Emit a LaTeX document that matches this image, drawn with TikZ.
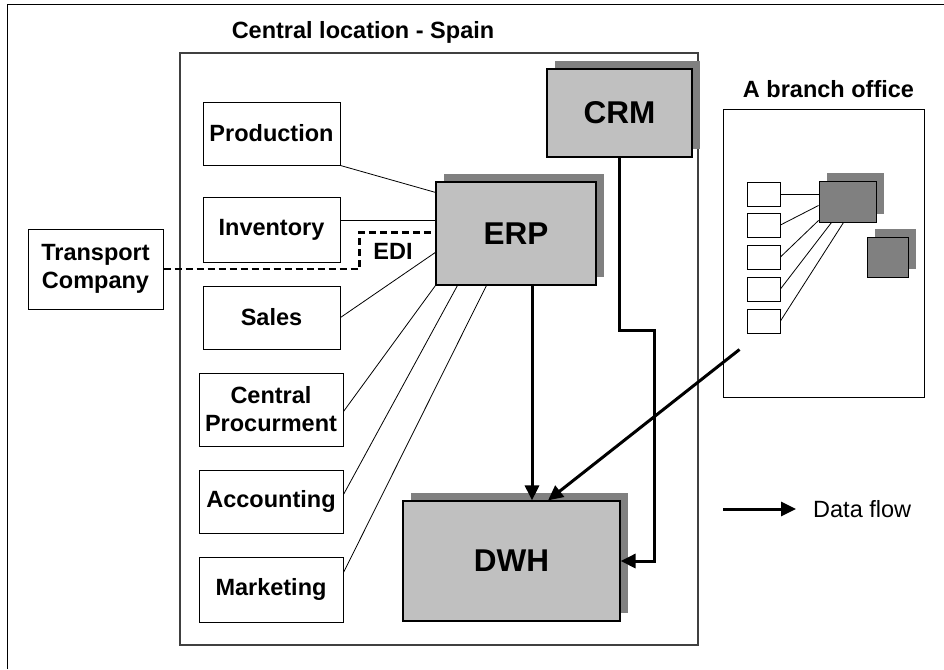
\documentclass[tikz,border=0pt]{standalone}
\usepackage{fontspec}
\setmainfont{Liberation Sans}
\usetikzlibrary{arrows.meta,calc,shadows}
\definecolor{boxgray}{HTML}{C0C0C0}
\definecolor{shadgray}{HTML}{808080}
\definecolor{framegray}{HTML}{404040}
\begin{document}
\begin{tikzpicture}[x=1pt,y=-1pt,
  lbl/.style={font=\fontsize{23.5}{28}\selectfont\bfseries},
  wbox/.style={draw=black,line width=1pt,fill=white,inner sep=0pt,align=center,lbl},
  sysbox/.style={draw=black,line width=1.2pt,fill=boxgray,inner sep=0pt,
     font=\fontsize{31.5}{34}\selectfont\bfseries,
     drop shadow={shadow xshift=8pt,shadow yshift=8pt,fill=shadgray,opacity=1}},
  darkbox/.style={draw=black,line width=1pt,fill=shadgray,inner sep=0pt,
     drop shadow={shadow xshift=8pt,shadow yshift=8pt,fill=shadgray,opacity=1}},
  smallbox/.style={draw=black,line width=0.9pt,fill=white,inner sep=0pt,minimum width=33pt,minimum height=24pt},
  thin/.style={line width=0.8pt},
  flow/.style={line width=3pt,-{Triangle[length=15pt,width=14pt]}},
  edi/.style={line width=2.6pt,dash pattern=on 7pt off 4pt}
]
\useasboundingbox (0,0) rectangle (944,669);
% outer frame (left and top only visible)
\draw[line width=1pt] (7,669) -- (7,5) -- (944,5);

% central location
\node[draw=framegray,line width=1.2pt,minimum width=518pt,minimum height=592pt,inner sep=0pt] (central) at (439,349) {};
\node[lbl,anchor=base,inner sep=0pt] (ctitle) at (363,38) {Central location - Spain};

% departments
\node[wbox,minimum width=137pt,minimum height=63pt] (prod) at (271.5,133.5) {Production};
\node[wbox,minimum width=137pt,minimum height=65pt] (inv) at (271.5,229.5) {Inventory};
\node[wbox,minimum width=137pt,minimum height=63pt] (sales) at (271.5,317.5) {Sales};
\node[wbox,minimum width=144pt,minimum height=73pt] (proc) at (271,409.5) {Central\\Procurment};
\node[wbox,minimum width=144pt,minimum height=63pt] (acc) at (271,501.5) {Accounting};
\node[wbox,minimum width=144pt,minimum height=65pt] (mkt) at (271,589.5) {Marketing};
\node[wbox,minimum width=135pt,minimum height=80pt] (trans) at (95.5,269) {Transport\\Company};

% systems
\node[sysbox,minimum width=145pt,minimum height=88pt] (crm) at (619.5,113) {CRM};
\node[sysbox,minimum width=160pt,minimum height=103pt] (erp) at (516,233.5) {ERP};
\node[sysbox,minimum width=217pt,minimum height=120pt] (dwh) at (511.5,561) {DWH};

% connectors to ERP
\coordinate (erpProd) at ($(erp.north west)+(0,11)$);
\coordinate (erpInv) at ($(erp.north west)+(0,39)$);
\coordinate (erpEdi) at ($(erp.north west)+(0,51)$);
\coordinate (erpSales) at ($(erp.north west)+(0,71)$);
\draw[thin] (prod.south east) -- (erpProd);
\draw[thin] (inv.east |- erpInv) -- (erpInv);
\draw[thin] (sales.east) -- (erpSales);
\draw[thin] ($(proc.east)+(0,2)$) -- (erp.south west);
\draw[thin] ($(acc.east)+(0,-7)$) -- ($(erp.south west)+(22,0)$);
\draw[thin] ($(mkt.east)+(0,-17)$) -- ($(erp.south west)+(51,0)$);
\draw[edi] (trans.east) -| ($(erpEdi)+(-76,0)$) -- (erpEdi);
\node[lbl,inner sep=0pt] (edilbl) at (393,251) {EDI};

% branch office
\node[draw=black,line width=1pt,minimum width=201pt,minimum height=288pt,inner sep=0pt] (branch) at (823.5,253) {};
\node[lbl,anchor=base,inner sep=0pt] (btitle) at (828.5,97) {A branch office};
\node[darkbox,minimum width=57pt,minimum height=41pt] (db1) at (847.5,201.5) {};
\node[darkbox,minimum width=41pt,minimum height=40pt] (db2) at (887.5,257) {};
\node[smallbox] (sb1) at (763.5,194) {};
\node[smallbox] (sb2) at (763.5,225) {};
\node[smallbox] (sb3) at (763.5,257) {};
\node[smallbox] (sb4) at (763.5,289) {};
\node[smallbox] (sb5) at (763.5,321) {};
\draw[thin] (sb1.east) -- (db1.west |- sb1.east);
\draw[thin] (sb2.east) -- ($(db1.north west)+(0,25)$);
\draw[thin] (sb3.east) -- ($(db1.south west)+(0,-2)$);
\draw[thin] (sb4.east) -- ($(db1.south west)+(13,0)$);
\draw[thin] (sb5.east) -- ($(db1.south west)+(25,0)$);

% data flows
\coordinate (erpDown) at ($(erp.south)+(16,0)$);
\draw[flow] (erpDown) -- (erpDown |- dwh.north);
\coordinate (brStart) at ($(branch.south west)+(17,-48)$);
\draw[flow] (brStart) -- ($(dwh.north)+(36.5,0)$);
\draw[flow] (crm.south) -- ++(0,173) -| ($(dwh.east)+(34,0)$) -- (dwh.east);

% legend
\coordinate (legA) at (723,509);
\node[anchor=west,inner sep=0pt,font=\fontsize{23.5}{28}\selectfont] (legtxt) at (813,509) {Data flow};
\draw[flow] (legA) -- ($(legtxt.west)+(-17,0)$);
\end{tikzpicture}
\end{document}
